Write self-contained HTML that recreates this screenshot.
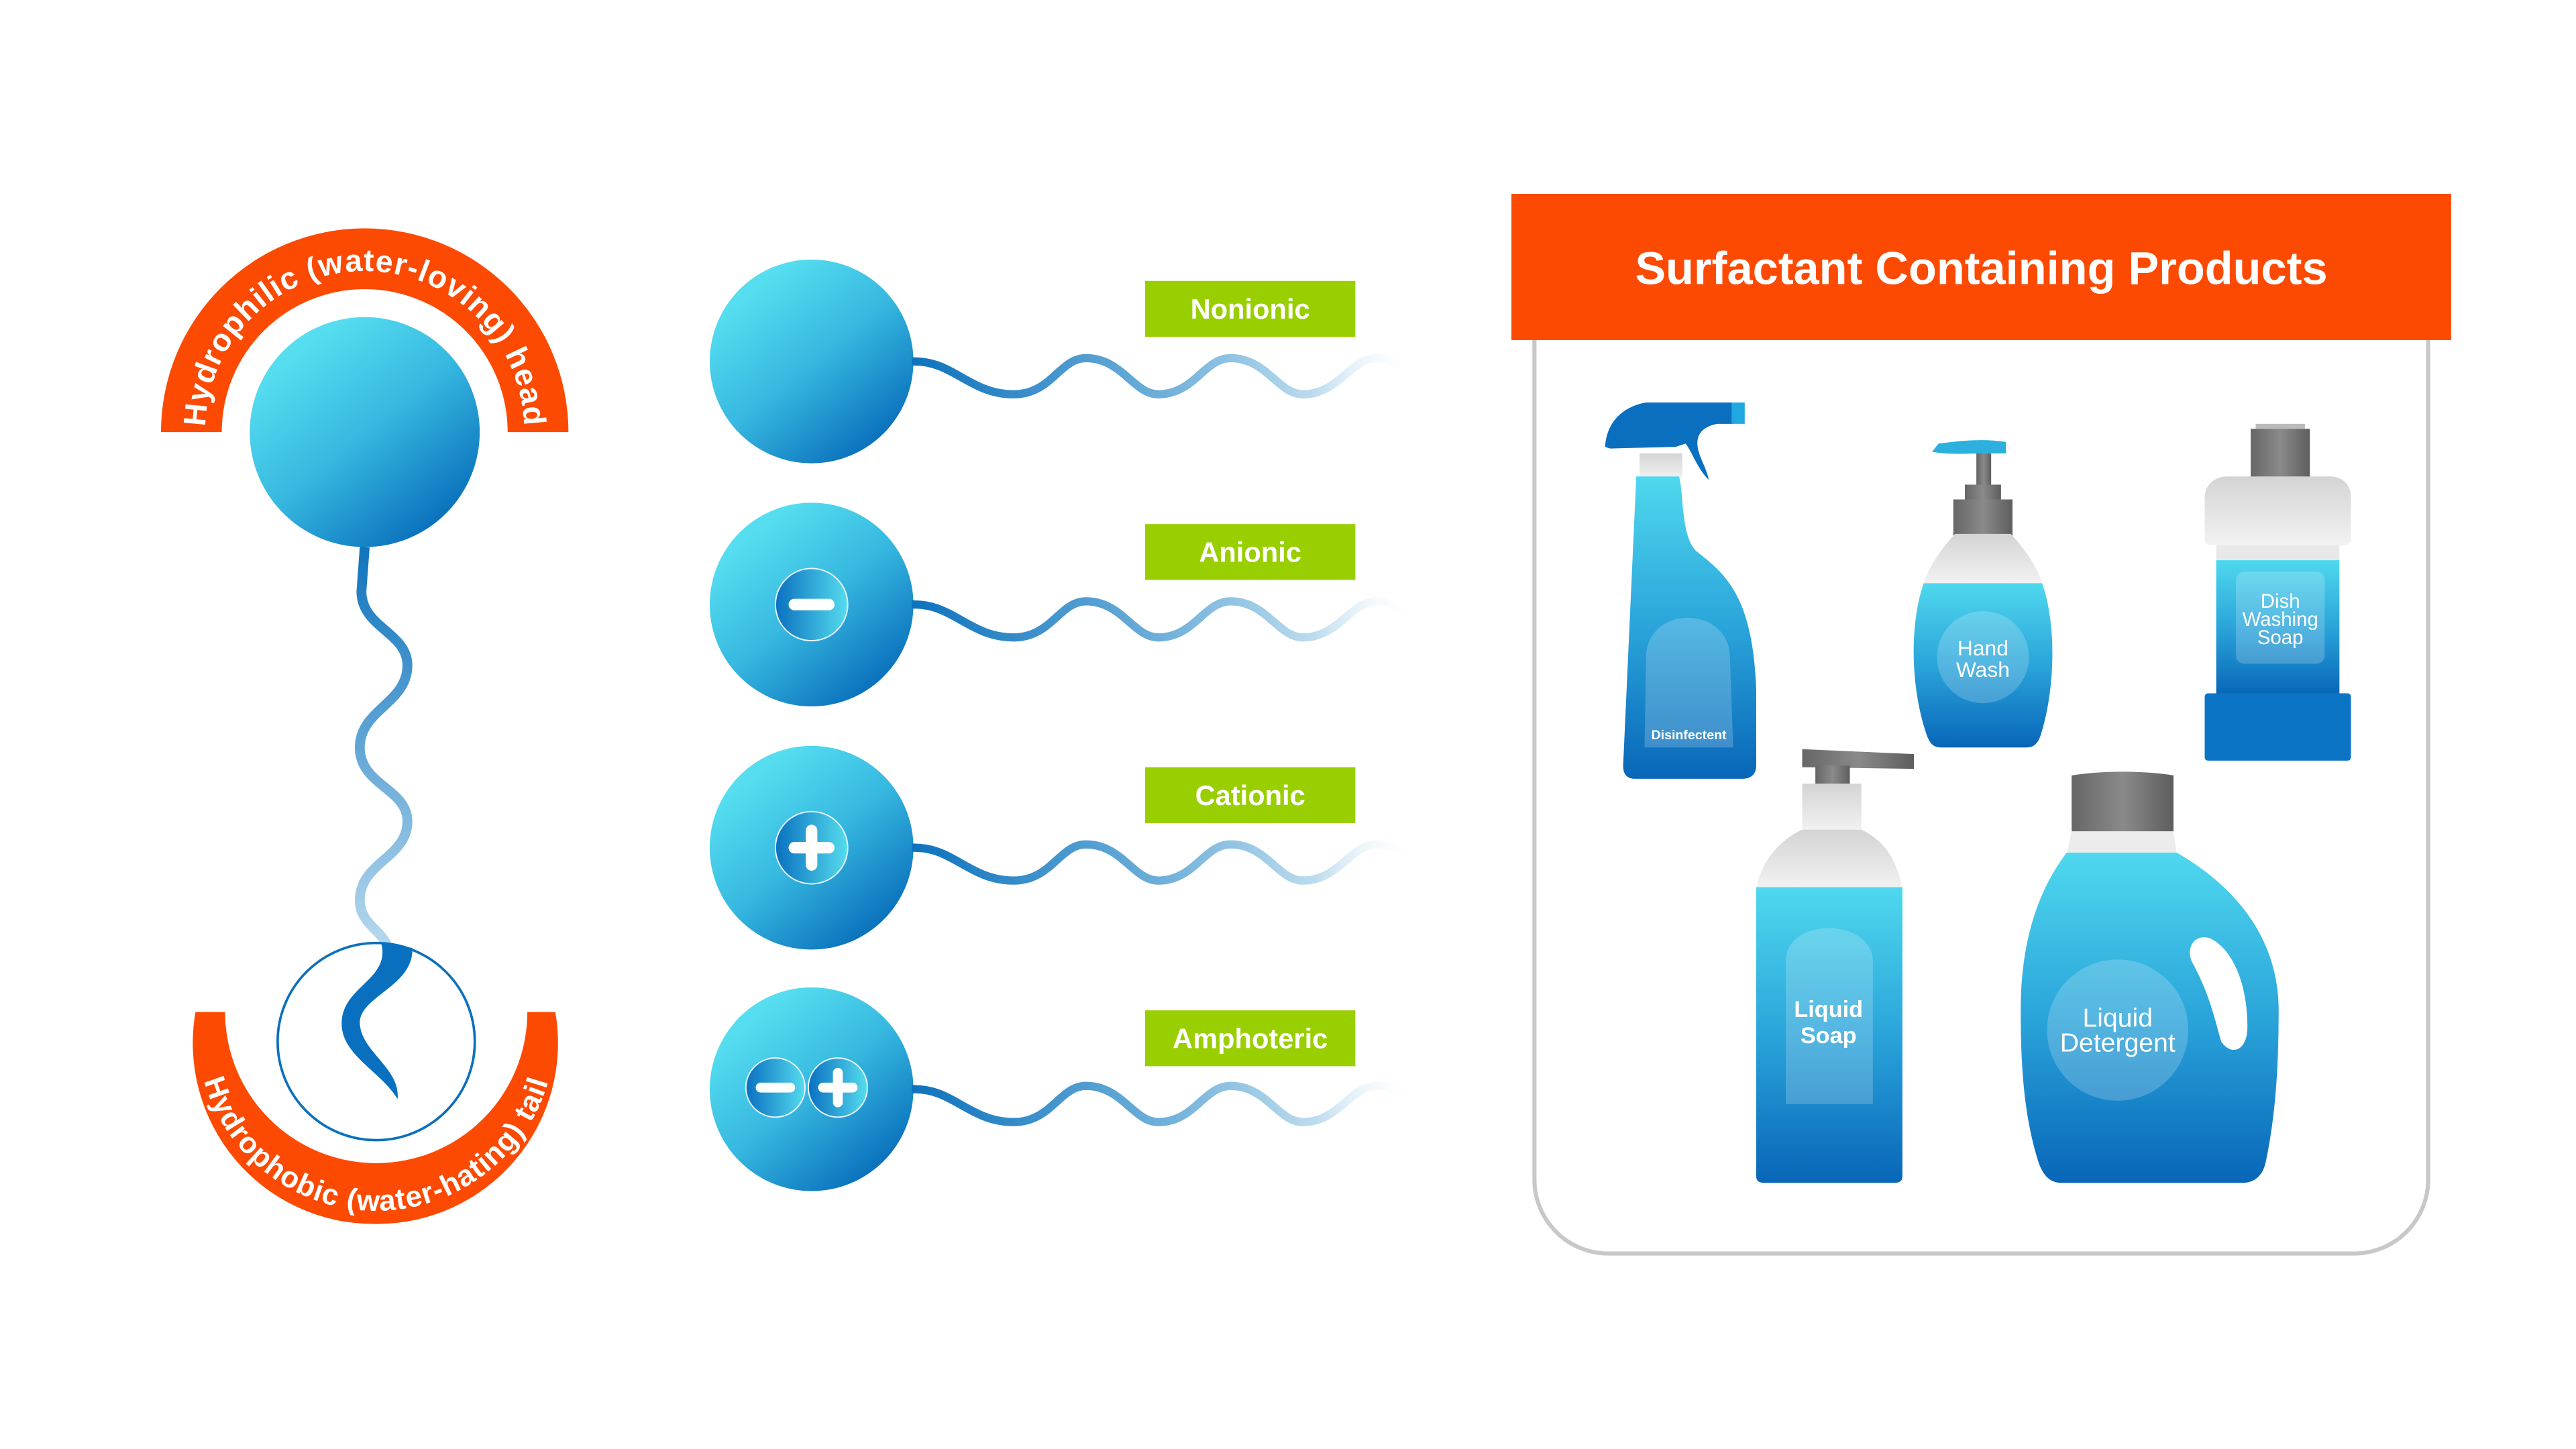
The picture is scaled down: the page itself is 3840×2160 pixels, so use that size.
<!DOCTYPE html>
<html><head><meta charset="utf-8"><style>html,body{margin:0;padding:0;background:#fff;}svg{display:block}</style></head>
<body>
<svg width="3840" height="2160" viewBox="0 0 1568 882" xmlns="http://www.w3.org/2000/svg" font-family="'Liberation Sans', sans-serif">
<defs>
<linearGradient id="ball" x1="0.2" y1="0.15" x2="0.85" y2="0.95"><stop offset="0" stop-color="#56def0"/><stop offset="0.45" stop-color="#36b8e0"/><stop offset="1" stop-color="#0568b8"/></linearGradient>
<linearGradient id="sym" x1="0" y1="0" x2="1" y2="0"><stop offset="0" stop-color="#0a70c0"/><stop offset="1" stop-color="#55dcee"/></linearGradient>
<linearGradient id="wave" gradientUnits="userSpaceOnUse" x1="555" y1="0" x2="862" y2="0"><stop offset="0" stop-color="#0d72bd"/><stop offset="0.5" stop-color="#6fb0da"/><stop offset="0.8" stop-color="#bcdcee"/><stop offset="1" stop-color="#ffffff" stop-opacity="0"/></linearGradient>
<linearGradient id="vtail" gradientUnits="userSpaceOnUse" x1="0" y1="333" x2="0" y2="575"><stop offset="0" stop-color="#0f74bd"/><stop offset="1" stop-color="#b5d8ee"/></linearGradient>
<linearGradient id="bot" x1="0" y1="0" x2="0" y2="1"><stop offset="0" stop-color="#4fd8ee"/><stop offset="0.5" stop-color="#2aa4da"/><stop offset="1" stop-color="#0866b8"/></linearGradient>
<linearGradient id="gray" x1="0" y1="0" x2="1" y2="0"><stop offset="0" stop-color="#666"/><stop offset="0.5" stop-color="#8a8a8a"/><stop offset="1" stop-color="#5e5e5e"/></linearGradient>
<linearGradient id="wht" x1="0" y1="0" x2="0" y2="1"><stop offset="0" stop-color="#d4d4d4"/><stop offset="1" stop-color="#f2f2f2"/></linearGradient>
<path id="arcTop" d="M125,262 A97,97 0 0 1 319,262"/>
<path id="arcBot" d="M120,628 A109,109 0 0 0 338,628"/>
</defs>

<path d="M98,263 A124,124 0 0 1 346,263 L309,263 A87,87 0 0 0 135,263 Z" fill="#fd4a02"/>
<text font-size="19" font-weight="bold" fill="#fff" letter-spacing="0.5"><textPath href="#arcTop" startOffset="50%" text-anchor="middle">Hydrophilic (water-loving) head</textPath></text>
<circle cx="222" cy="263" r="70" fill="url(#ball)"/>
<path d="M222,333 L220,360 C220,382 248,385 248,405 C248,428 219,432 219,455 C219,478 248,480 248,500 C248,522 219,525 219,548 C219,562 232,566 236,576" fill="none" stroke="url(#vtail)" stroke-width="6"/>
<path d="M119,616 L137,616 A92,92 0 0 0 321,616 L338,616 A110,110 0 0 1 228,745 A110,110 0 0 1 119,616 Z" fill="#fd4a02"/>
<text font-size="18" font-weight="bold" fill="#fff" letter-spacing="0.5"><textPath href="#arcBot" startOffset="50%" text-anchor="middle">Hydrophobic (water-hating) tail</textPath></text>
<circle cx="229" cy="634" r="60" fill="#fff" stroke="#0a70bd" stroke-width="1.5"/>
<path d="M232,574 L251,577 C252,600 220,606 219,622 C219,640 244,650 242,669 C232,652 207,642 208,622 C209,600 238,596 232,574 Z" fill="#0870bf"/>

<g>
<circle cx="494" cy="220" r="62" fill="url(#ball)"/>
<circle cx="494" cy="368" r="62" fill="url(#ball)"/>
<circle cx="494" cy="516" r="62" fill="url(#ball)"/>
<circle cx="494" cy="663" r="62" fill="url(#ball)"/>
</g>
<g fill="none" stroke="url(#wave)" stroke-width="5">
<path id="w1" d="M555,220 C580,219 590,240 617,240 C640,240 645,218 661,218 C683,218 690,240 705,240 C727,240 733,218 749,218 C771,218 778,240 793,240 C815,240 822,218 838,218 C850,218 855,225 862,232"/>
</g>
<g fill="none" stroke="url(#wave)" stroke-width="5">
<use href="#w1" y="148"/><use href="#w1" y="296"/><use href="#w1" y="443"/>
</g>
<circle cx="494" cy="368" r="22" fill="url(#sym)" stroke="#e8f6fc" stroke-width="0.8"/>
<rect x="480" y="364.5" width="28" height="7" rx="3.5" fill="#fff"/>
<circle cx="494" cy="516" r="22" fill="url(#sym)" stroke="#e8f6fc" stroke-width="0.8"/>
<rect x="480" y="512.5" width="28" height="7" rx="3.5" fill="#fff"/>
<rect x="490.5" y="502" width="7" height="28" rx="3.5" fill="#fff"/>
<circle cx="472" cy="662" r="18" fill="url(#sym)" stroke="#e8f6fc" stroke-width="0.8"/>
<circle cx="510" cy="662" r="18" fill="url(#sym)" stroke="#e8f6fc" stroke-width="0.8"/>
<rect x="460" y="659" width="24" height="6" rx="3" fill="#fff"/>
<rect x="498" y="659" width="24" height="6" rx="3" fill="#fff"/>
<rect x="507" y="650" width="6" height="24" rx="3" fill="#fff"/>
<g fill="#99cf00"><rect x="697" y="171" width="128" height="34"/><rect x="697" y="319" width="128" height="34"/><rect x="697" y="467" width="128" height="34"/><rect x="697" y="615" width="128" height="34"/></g>
<g fill="#fff" font-size="17" font-weight="bold" text-anchor="middle">
<text x="761" y="194">Nonionic</text><text x="761" y="342">Anionic</text><text x="761" y="490">Cationic</text><text x="761" y="638">Amphoteric</text>
</g>

<path d="M934,207 L934,718 A45,45 0 0 0 979,763 L1433,763 A45,45 0 0 0 1478,718 L1478,207" fill="#fff" stroke="#c8c8c8" stroke-width="2.5"/>
<rect x="920" y="118" width="572" height="89" fill="#fd4a02"/>
<text x="1206" y="173" font-size="28" font-weight="bold" fill="#fff" text-anchor="middle">Surfactant Containing Products</text>

<rect x="998" y="276" width="26" height="15" fill="url(#wht)"/>
<path d="M996,290 L1022,290 C1025,300 1023,325 1032,335 C1048,348 1067,360 1069,420 L1069,466 C1069,471 1066,474 1061,474 L995,474 C990,474 988,471 988,466 Z" fill="url(#bot)"/>
<path d="M977,272 C978,255 990,247 1002,245 L1055,245 L1055,258 L1045,258 C1036,260 1030,265 1035,278 C1038,285 1040,290 1040,292 C1033,285 1030,275 1026,270 L1020,272 L980,273 Z" fill="#0a6fbf"/>
<rect x="1054" y="245" width="8" height="13" fill="#20a8e0"/>
<path d="M1001,455 L1002,400 C1002,385 1014,376 1027,376 C1041,376 1053,385 1053,400 L1055,455 Z" fill="#fff" fill-opacity="0.2"/>
<text x="1028" y="450" font-size="8" font-weight="bold" fill="#fff" text-anchor="middle">Disinfectent</text>

<path d="M1176,275 L1180,270 C1195,268 1208,267 1221,269 L1221,276 L1210,276 C1198,276 1187,277 1176,275 Z" fill="#2bb0e0"/>
<rect x="1203" y="276" width="9" height="22" fill="url(#gray)"/>
<rect x="1196" y="295" width="22" height="10" fill="url(#gray)"/>
<rect x="1189" y="304" width="36" height="22" fill="url(#gray)"/>
<path d="M1190,325 L1224,325 C1233,335 1240,345 1243,355 L1171,355 C1174,345 1181,335 1190,325 Z" fill="url(#wht)"/>
<path d="M1171,355 L1243,355 C1252,380 1251,420 1242,448 C1240,453 1238,455 1233,455 L1182,455 C1177,455 1175,453 1173,448 C1163,420 1162,380 1171,355 Z" fill="url(#bot)"/>
<circle cx="1207" cy="400" r="28" fill="#fff" fill-opacity="0.2"/>
<text x="1207" y="399" font-size="13" fill="#fff" text-anchor="middle">Hand</text>
<text x="1207" y="412" font-size="13" fill="#fff" text-anchor="middle">Wash</text>

<rect x="1373" y="258" width="30" height="3" fill="#bbb"/>
<rect x="1370" y="261" width="36" height="30" fill="url(#gray)"/>
<path d="M1342,303 C1342,295 1348,290 1356,290 L1418,290 C1426,290 1431,295 1431,303 L1431,328 C1431,331 1429,332 1426,332 L1347,332 C1344,332 1342,331 1342,328 Z" fill="url(#wht)"/>
<rect x="1349" y="332" width="75" height="10" fill="#e8e8e8"/>
<rect x="1349" y="341" width="75" height="82" fill="url(#bot)"/>
<rect x="1361" y="348" width="54" height="56" rx="5" fill="#fff" fill-opacity="0.2"/>
<text x="1388" y="370" font-size="12" fill="#fff" text-anchor="middle">Dish</text>
<text x="1388" y="381" font-size="12" fill="#fff" text-anchor="middle">Washing</text>
<text x="1388" y="392" font-size="12" fill="#fff" text-anchor="middle">Soap</text>
<rect x="1342" y="422" width="89" height="41" rx="2" fill="#0b74c5"/>

<path d="M1097,456 L1165,459 L1165,468 L1097,467 Z" fill="url(#gray)"/>
<rect x="1105" y="466" width="21" height="12" fill="url(#gray)"/>
<rect x="1097" y="477" width="36" height="29" fill="url(#wht)"/>
<path d="M1097,505 L1133,505 C1148,512 1155,525 1158,541 L1069,541 C1072,525 1082,512 1097,505 Z" fill="url(#wht)"/>
<path d="M1069,540 L1158,540 L1158,716 C1158,719 1156,720 1153,720 L1074,720 C1071,720 1069,719 1069,716 Z" fill="url(#bot)"/>
<path d="M1087,672 L1087,585 C1087,573 1098,565 1113,565 C1128,565 1140,573 1140,585 L1140,672 Z" fill="#fff" fill-opacity="0.2"/>
<text x="1113" y="619" font-size="14" font-weight="bold" fill="#fff" text-anchor="middle">Liquid</text>
<text x="1113" y="635" font-size="14" font-weight="bold" fill="#fff" text-anchor="middle">Soap</text>

<path d="M1261,472 C1280,469 1305,469 1323,472 L1323,507 L1261,507 Z" fill="url(#gray)"/>
<path d="M1261,506 L1323,506 L1325,520 L1258,520 Z" fill="#ececec"/>
<path d="M1258,519 L1325,519 C1370,545 1387,580 1387,615 C1387,650 1385,680 1379,708 C1377,716 1372,720 1365,720 L1255,720 C1248,720 1244,716 1241,708 C1232,680 1230,650 1230,615 C1230,570 1242,540 1258,519 Z" fill="url(#bot)"/>
<path d="M1334,585 C1330,575 1338,567 1347,572 C1360,580 1368,600 1368,625 C1368,640 1358,643 1352,634 C1348,620 1345,605 1334,585 Z" fill="#fff"/>
<circle cx="1289" cy="627" r="43" fill="#fff" fill-opacity="0.2"/>
<text x="1289" y="625" font-size="16" fill="#fff" text-anchor="middle">Liquid</text>
<text x="1289" y="640" font-size="16" fill="#fff" text-anchor="middle">Detergent</text>
</svg>
</body></html>
